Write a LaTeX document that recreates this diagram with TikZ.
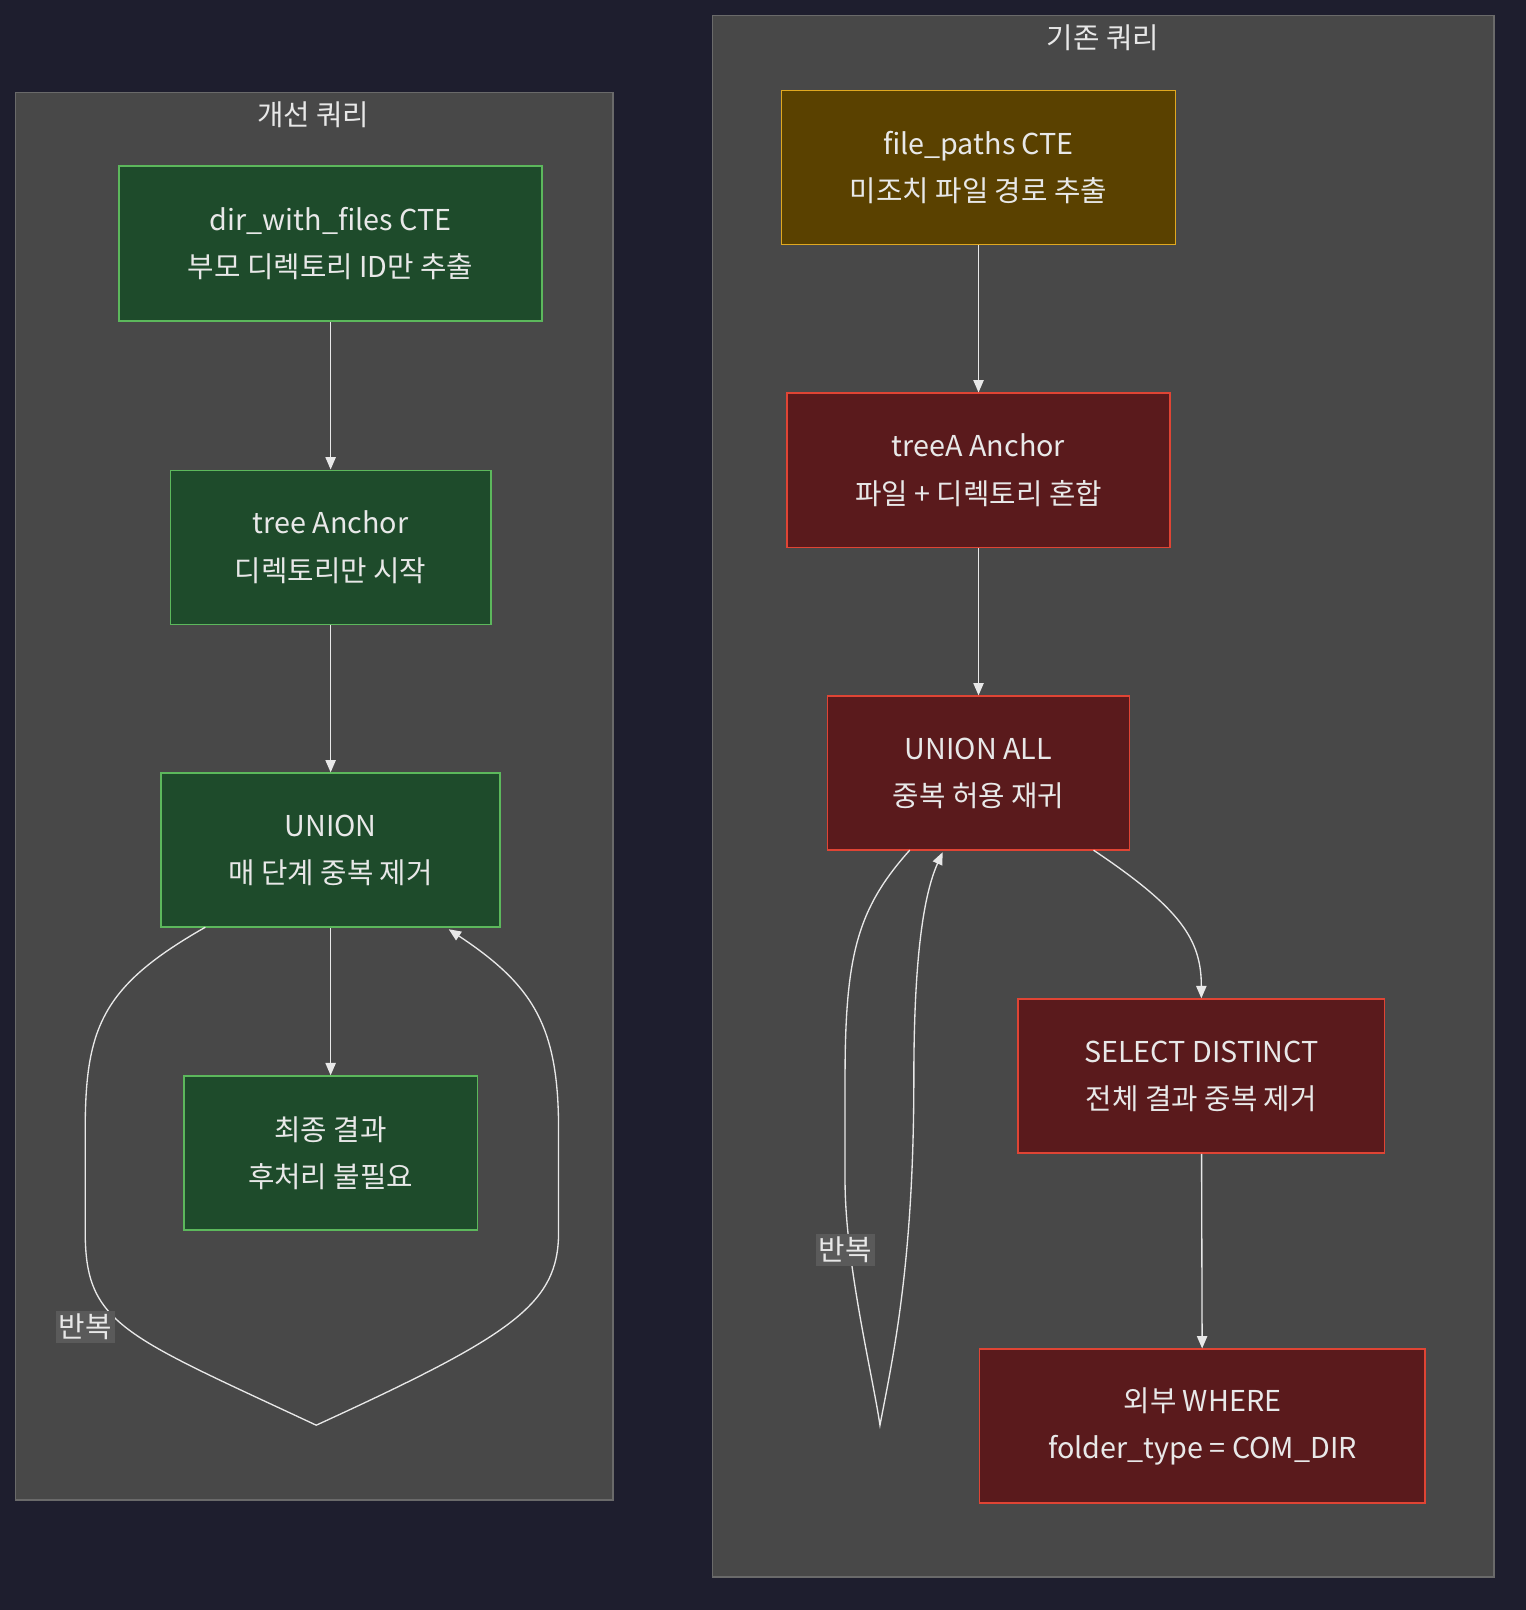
\documentclass[tikz,border=0pt]{standalone}
\usepackage{fontspec}
\setmainfont{Noto Sans CJK KR}
\usetikzlibrary{arrows.meta}
\definecolor{bg}{HTML}{1E1E2E}
\definecolor{clus}{HTML}{484848}
\definecolor{clusb}{HTML}{6A6A6A}
\definecolor{gf}{HTML}{1E4B2B}
\definecolor{gb}{HTML}{5CB85C}
\definecolor{yf}{HTML}{5A4100}
\definecolor{yb}{HTML}{E0A820}
\definecolor{rf}{HTML}{5A1A1C}
\definecolor{rb}{HTML}{E04434}
\definecolor{tx}{HTML}{E8E8E8}
\definecolor{lb}{HTML}{5A5A5A}
\tikzset{
 box/.style={draw, line width=1.5pt, text=tx, align=center, font=\fontsize{28}{46}\selectfont, inner sep=0pt},
 gbox/.style={box, fill=gf, draw=gb},
 ybox/.style={box, fill=yf, draw=yb},
 rbox/.style={box, fill=rf, draw=rb},
 cl/.style={fill=clus, draw=clusb, line width=1.5pt},
 ttl/.style={text=tx, font=\fontsize{28}{30}\selectfont},
 edge/.style={draw=tx, line width=1.3pt, -{Triangle[length=12pt,width=10pt]}},
 lbl/.style={fill=lb, text=tx, font=\fontsize{28}{30}\selectfont, inner sep=3pt}
}
\begin{document}
\begin{tikzpicture}[x=1pt,y=-1pt]
\useasboundingbox (0,0) rectangle (1486,1568);
\fill[bg] (0,0) rectangle (1486,1568);
\draw[cl] (15,90) rectangle (597,1461);
\draw[cl] (694,15) rectangle (1455,1536);
\node[ttl] (t1) at (305,112) {개선 쿼리};
\node[ttl] (t2) at (1074,37) {기존 쿼리};
% left
\node[gbox, minimum width=412pt, minimum height=151pt] (a) at (322,237) {dir\_with\_files CTE\\부모 디렉토리 ID만 추출};
\node[gbox, minimum width=312pt, minimum height=150pt] (b) at (322,533) {tree Anchor\\디렉토리만 시작};
\node[gbox, minimum width=330pt, minimum height=150pt] (c) at (322,828) {UNION\\매 단계 중복 제거};
\node[gbox, minimum width=286pt, minimum height=150pt] (d) at (322,1123) {최종 결과\\후처리 불필요};
\draw[edge] (a) -- (b);
\draw[edge] (b) -- (c);
\draw[edge] (c) -- (d);
\coordinate (lp) at (308,1388);
\draw[edge] (200,903) .. controls (100,960) and (83,1000) .. (83,1100) -- (83,1200) .. controls (83,1290) and (120,1300) .. (lp) .. controls (500,1300) and (544,1270) .. (544,1200) -- (544,1100) .. controls (544,1000) and (520,960) .. (437,905);
\node[lbl] (l1) at (83,1292) {반복};
% right
\node[ybox, minimum width=384pt, minimum height=150pt] (e) at (953,163) {file\_paths CTE\\미조치 파일 경로 추출};
\node[rbox, minimum width=373pt, minimum height=150pt] (f) at (953,458) {treeA Anchor\\파일 + 디렉토리 혼합};
\node[rbox, minimum width=294pt, minimum height=150pt] (g) at (953,753) {UNION ALL\\중복 허용 재귀};
\node[rbox, minimum width=357pt, minimum height=150pt] (h) at (1170,1048) {SELECT DISTINCT\\전체 결과 중복 제거};
\node[rbox, minimum width=434pt, minimum height=150pt] (i) at (1171,1389) {외부 WHERE\\folder\_type = COM\_DIR};
\draw[edge] (e) -- (f);
\draw[edge] (f) -- (g);
\draw[edge] (1065,828) .. controls (1150,885) and (1170,915) .. (h.north);
\draw[edge] (h) -- (i);
\coordinate (rp) at (857,1388);
\draw[edge] (886,828) .. controls (835,885) and (823,930) .. (823,1050) -- (823,1150) .. controls (823,1230) and (850,1340) .. (rp) .. controls (870,1320) and (890,1230) .. (890,1050) .. controls (890,930) and (900,870) .. (918,830);
\node[lbl] (l2) at (823,1217) {반복};
\end{tikzpicture}
\end{document}
